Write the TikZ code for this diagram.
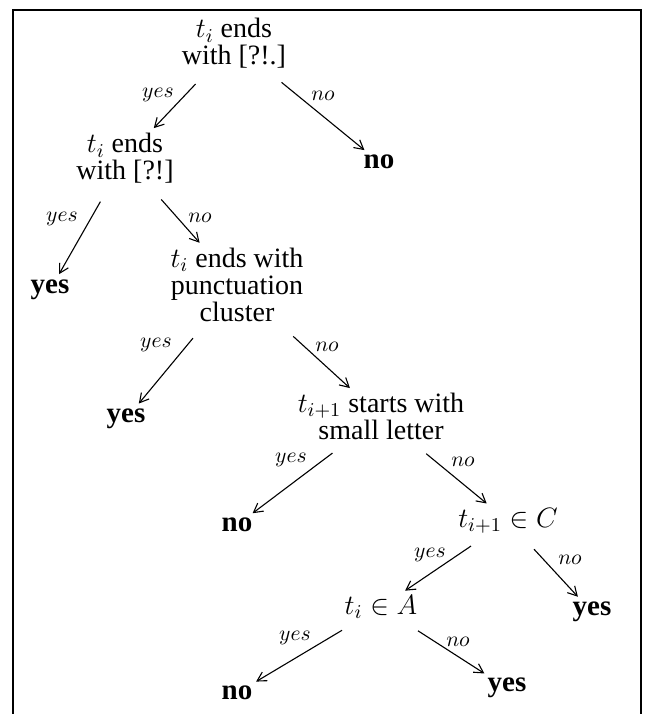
\RequirePackage{fix-cm}
\documentclass[tikz,border=0pt]{standalone}
\usepackage{fontspec}
\setmainfont{LiberationSerif}[Extension=.ttf, UprightFont=*-Regular, BoldFont=*-Bold, ItalicFont=*-Italic, BoldItalicFont=*-BoldItalic]
\usetikzlibrary{arrows.meta}
\begin{document}
\begin{tikzpicture}[x=0.5pt,y=-0.5pt,
  every node/.style={inner sep=1pt},
  q/.style={align=center, font=\rmfamily\fontsize{14}{13.5}\selectfont},
  leaf/.style={font=\rmfamily\fontsize{14.5}{14.5}\selectfont\bfseries},
  lbl/.style={font=\fontsize{10.8}{10.8}\selectfont},
  arr/.style={-{Straight Barb[length=4.5pt,width=5pt]}, line width=0.55pt, shorten <=9pt, shorten >=2pt}]
\useasboundingbox (0,0) rectangle (645,714);
\draw[line width=1pt] (13,714) -- (13,10) -- (641,10) -- (641,714);
% questions
\node[q] (r)  at (234,43.5) {$t_i$ ends\\with [?!.]};
\node[q] (n2) at (125,158.5) {$t_i$ ends\\with [?!]};
\node[q] (n3) at (237,285) {$t_i$ ends with\\punctuation\\cluster};
\node[q] (n4) at (381,416.5) {$t_{i+1}$ starts with\\small letter};
\node[q] (n5) at (508,521) {$t_{i+1}\in C$};
\node[q] (n6) at (381,607) {$t_i\in A$};
% leaves
\node[leaf] (no1)  at (379,162) {$\mathbf{no}$};
\node[leaf] (yes1) at (50,290) {yes};
\node[leaf] (yes2) at (126,419) {yes};
\node[leaf] (no2)  at (237,525) {$\mathbf{no}$};
\node[leaf] (yes3) at (592,612) {yes};
\node[leaf] (no3)  at (237,693) {$\mathbf{no}$};
\node[leaf] (yes4) at (507,688) {yes};
% connectors
\draw[arr] (r) -- (n2);
\draw[arr] (r) -- (no1);
\draw[arr] (n2) -- (yes1);
\draw[arr] (n2) -- (n3);
\draw[arr] (n3) -- (yes2);
\draw[arr] (n3) -- (n4);
\draw[arr] (n4) -- (no2);
\draw[arr] (n4) -- (n5);
\draw[arr] (n5) -- (n6);
\draw[arr] (n5) -- (yes3);
\draw[arr] (n6) -- (no3);
\draw[arr] (n6) -- (yes4);
% edge labels
\node[lbl] (a1)  at (158,95)  {$yes$};
\node[lbl] (b1)  at (323,96)  {$no$};
\node[lbl] (a2)  at (62,219)  {$yes$};
\node[lbl] (b2)  at (200,218) {$no$};
\node[lbl] (a3)  at (156,345) {$yes$};
\node[lbl] (b3)  at (327,347) {$no$};
\node[lbl] (a4)  at (291,460) {$yes$};
\node[lbl] (b4)  at (463,462) {$no$};
\node[lbl] (a5)  at (430,555) {$yes$};
\node[lbl] (b5)  at (570,560) {$no$};
\node[lbl] (a6)  at (295,638) {$yes$};
\node[lbl] (b6)  at (458,642) {$no$};
\end{tikzpicture}
\end{document}
